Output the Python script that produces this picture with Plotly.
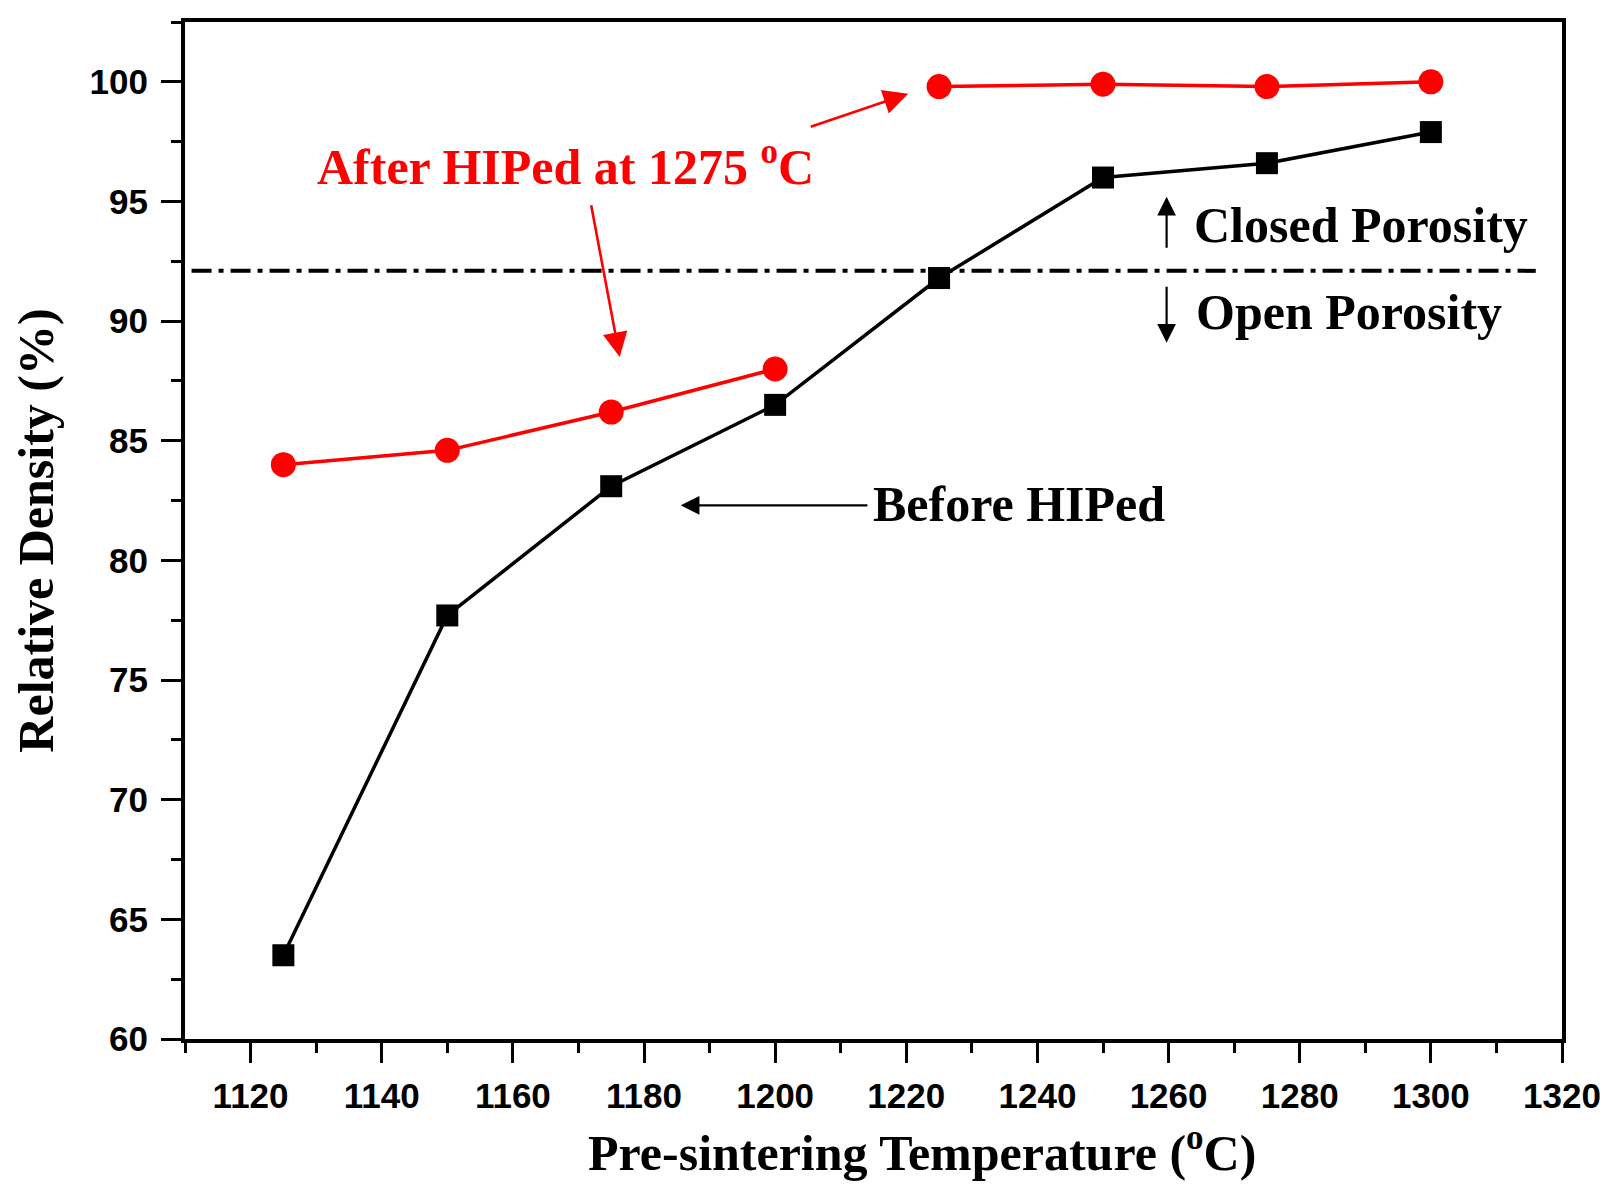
import plotly.graph_objects as go

# pre-sintering temperature (C)
temps = [1125, 1150, 1175, 1200, 1225, 1250, 1275, 1300]
# relative density (%) before and after HIP
before_hip = [63.5, 77.7, 83.1, 86.5, 91.8, 96.0, 96.6, 97.9]
after_hip = [84.0, 84.6, 86.2, 88.0, 99.8, 99.9, 99.8, 100.0]
# closed / open porosity limit
porosity_limit = 92.1
limit_x = [1111, 1316]

serif = "Liberation Serif, Times New Roman, serif"
sans = "Liberation Sans, Arial, sans-serif"

fig = go.Figure()

# after-HIP points: open-porosity group and closed-porosity group drawn apart
after_x = temps[:4] + [None] + temps[4:]
after_y = after_hip[:4] + [None] + after_hip[4:]

fig.add_trace(go.Scatter(x=limit_x, y=[porosity_limit] * 2, mode='lines',
                         line=dict(color='black', width=4, dash='20px,7px,5px,7px'),
                         hoverinfo='skip'))
fig.add_trace(go.Scatter(x=temps, y=before_hip, mode='lines+markers',
                         line=dict(color='black', width=3.5),
                         marker=dict(symbol='square', size=22, color='black')))
fig.add_trace(go.Scatter(x=after_x, y=after_y, mode='lines+markers',
                         line=dict(color='#ff0000', width=3.5),
                         marker=dict(symbol='circle', size=25, color='#ff0000'),
                         connectgaps=False))

ann_font = dict(family=serif, size=50)

annotations = [
    dict(x=1168, y=96.6, text='<b>After HIPed at 1275 <sup>o</sup>C</b>',
         showarrow=False, font=dict(ann_font, color='#ff0000')),
    dict(x=1263.6, y=94.0, text='<b>Closed Porosity</b>', xanchor='left',
         showarrow=False, font=dict(ann_font, color='black')),
    dict(x=1263.9, y=90.4, text='<b>Open Porosity</b>', xanchor='left',
         showarrow=False, font=dict(ann_font, color='black')),
    dict(x=1214.6, y=82.35, text='<b>Before HIPed</b>', xanchor='left',
         showarrow=False, font=dict(ann_font, color='black')),
    # x axis title, sits a bit right of the plot centre as in the original
    dict(x=0.535, y=-0.109, xref='paper', yref='paper', yanchor='middle',
         text='<b>Pre-sintering Temperature (<sup>o</sup>C)</b>', showarrow=False,
         font=dict(family=serif, size=50, color='black')),
]
# arrows
red_arrows = [
    dict(x=1220.3, y=99.5, ax=1205.2, ay=98.1),
    dict(x=1176.3, y=88.5, ax=1171.9, ay=94.9),
]
for a in red_arrows:
    a.update(text='', showarrow=True, axref='x', ayref='y', arrowhead=2,
             arrowsize=1.9, arrowwidth=2.6, arrowcolor='#ff0000')
black_arrows = [
    dict(x=1185.6, y=82.3, ax=1214.3, ay=82.3),
    dict(x=1259.7, y=95.2, ax=1259.7, ay=93.0),
    dict(x=1259.7, y=89.1, ax=1259.7, ay=91.5),
]
for a in black_arrows:
    a.update(text='', showarrow=True, axref='x', ayref='y', arrowhead=2,
             arrowsize=1.7, arrowwidth=2.2, arrowcolor='black')
annotations += red_arrows + black_arrows

tick_font = dict(family=sans, size=35, color='black', weight='bold')

fig.update_layout(
    width=1615, height=1194,
    margin=dict(l=177, r=61, t=10, b=163),
    paper_bgcolor='white', plot_bgcolor='white',
    showlegend=False,
    annotations=annotations,
    xaxis=dict(range=[1110, 1320], tickmode='linear', tick0=1120, dtick=20,
               ticks='outside', ticklen=20, tickwidth=3, tickcolor='black',
               minor=dict(ticks='outside', ticklen=10, tickwidth=3, dtick=10,
                          tick0=1110, tickcolor='black'),
               showline=True, linewidth=4, linecolor='black', mirror=True,
               showgrid=False, zeroline=False, tickfont=tick_font,
               ticklabelstandoff=3),
    yaxis=dict(range=[60, 102.5], tickmode='linear', tick0=60, dtick=5,
               ticks='outside', ticklen=20, tickwidth=3, tickcolor='black',
               minor=dict(ticks='outside', ticklen=10, tickwidth=3, dtick=2.5,
                          tickcolor='black'),
               showline=True, linewidth=4, linecolor='black', mirror=True,
               showgrid=False, zeroline=False, tickfont=tick_font,
               ticklabelstandoff=6,
               title=dict(text='<b>Relative Density (%)</b>',
                          font=dict(family=serif, size=50, color='black'),
                          standoff=26)),
)

fig.write_html("out.html")
